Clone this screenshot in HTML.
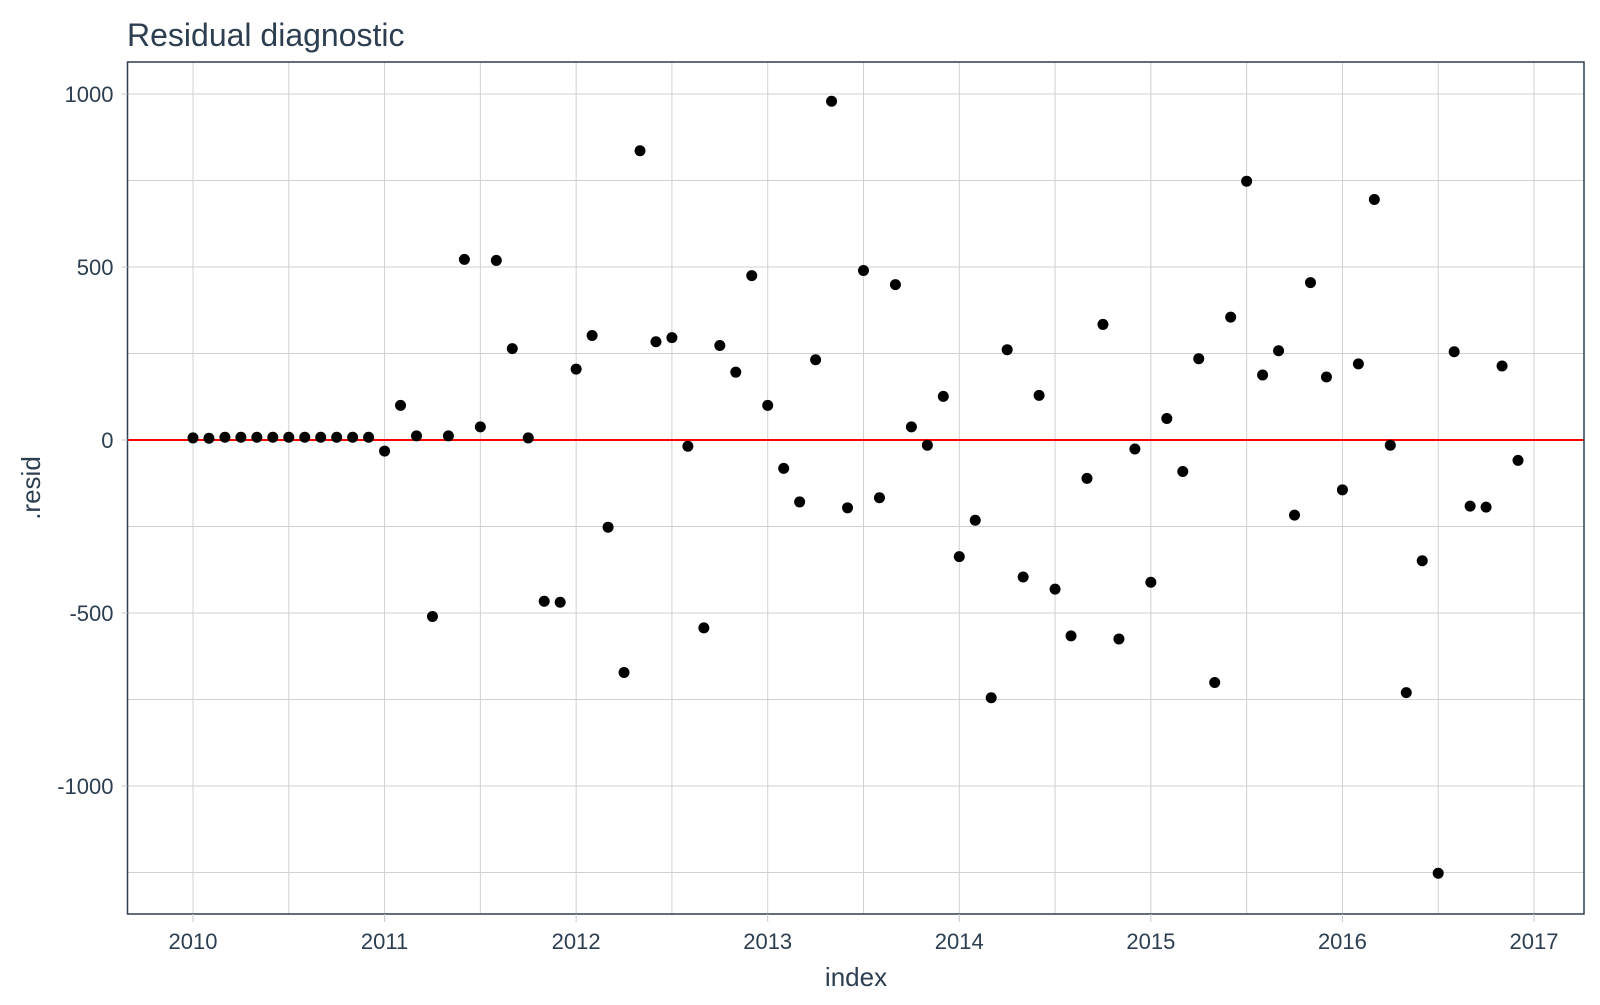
<!DOCTYPE html>
<html><head><meta charset="utf-8"><style>
html,body{margin:0;padding:0;background:#fff;}
svg text{font-family:"Liberation Sans",sans-serif;fill:#2c3e50;}
</style></head><body>
<svg id="chart" width="1600" height="1000">
<g id="grid"></g>
<line id="zero" stroke="#ff0000" stroke-width="2"></line>
<g id="pts"></g>
<rect x="127.5" y="62" width="1456.5" height="852" fill="none" stroke="#2c3e50" stroke-width="1.5"></rect>
<g id="axes"></g>
<text x="127" y="46" font-size="32">Residual diagnostic</text>
<text x="856" y="986" font-size="26" text-anchor="middle">index</text>
<text x="40" y="488" font-size="26" text-anchor="middle" transform="rotate(-90 40 488)">.resid</text>
</svg>
<script>
const startYear = 2010;
const resid2010 = [6,5,8,8,8,8,8,8,8,8,8,8];
const resid2011 = [-32,100,12,-510,12,522,38,519,264,6,-466,-469];
const resid2012 = [205,302,-252,-672,836,284,296,-18,-543,273,196,475];
const resid2013 = [100,-82,-179,232,979,-196,490,-167,449,38,-15,126];
const resid2014 = [-337,-232,-745,261,-396,129,-431,-566,-111,334,-575,-26];
const resid2015 = [-411,62,-91,235,-701,355,748,188,258,-217,455,182];
const resid2016 = [-144,220,695,-15,-730,-349,-1252,255,-191,-194,214,-59];
const yTicks = [-1000,-500,0,500,1000];
const xTicks = [2010,2011,2012,2013,2014,2015,2016,2017];

const resid = [].concat(resid2010,resid2011,resid2012,resid2013,resid2014,resid2015,resid2016);
const L=127.5,R=1584,T=62,B=914;
const xs = t => 193 + (t-2010)*191.57;
const ys = v => 440 - v*0.346;
const NS='http://www.w3.org/2000/svg';
const grid=document.getElementById('grid'), axes=document.getElementById('axes'), pts=document.getElementById('pts');
function mk(tag,attrs,parent){const e=document.createElementNS(NS,tag);for(const k in attrs)e.setAttribute(k,attrs[k]);parent.appendChild(e);return e;}
for(let v=-1250;v<=1000;v+=250){
  const l=mk('line',{x1:L,x2:R,y1:ys(v),y2:ys(v),stroke:'#d0d0d0','stroke-width':1},grid);
  
  
}
for(let t=2009.5;t<=2017.5;t+=0.5){
  const x=xs(t); if(x<L||x>R) continue;
  const l=mk('line',{x1:x,x2:x,y1:T,y2:B,stroke:'#d0d0d0','stroke-width':1},grid);
  
  
}
yTicks.forEach(v=>{
  const tk=mk('line',{x1:L-6,x2:L,y1:ys(v),y2:ys(v),stroke:'#c8c8c8','stroke-width':1},axes);
  
  
  const t=mk('text',{x:L-14,y:ys(v)+8,'font-size':22,'text-anchor':'end'},axes);
  t.textContent=v;
  
  
});
xTicks.forEach(y=>{
  const tk=mk('line',{x1:xs(y),x2:xs(y),y1:B,y2:B+8,stroke:'#c8c8c8','stroke-width':1},axes);
  
  
  const t=mk('text',{x:xs(y),y:B+35,'font-size':22,'text-anchor':'middle'},axes);
  t.textContent=y;
  
  
});
const z=document.getElementById('zero');
z.setAttribute('x1',L);z.setAttribute('x2',R);z.setAttribute('y1',ys(0));z.setAttribute('y2',ys(0));
resid.forEach((v,i)=>{
  const c=mk('circle',{cx:xs(startYear+i/12),cy:ys(v),r:5.5,fill:'#000'},pts);
  
  
});
</script>
</body></html>
